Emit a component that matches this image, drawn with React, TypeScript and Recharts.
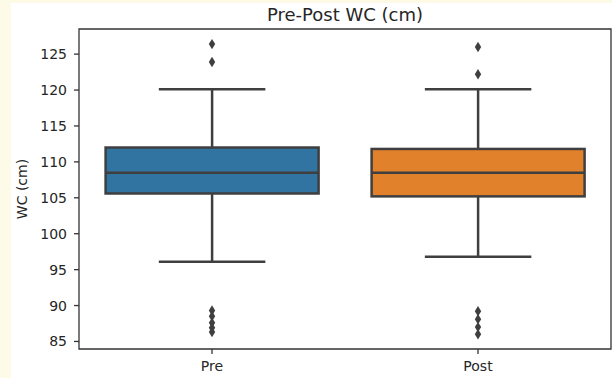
import React from 'react';
import { ComposedChart, Bar, Scatter, XAxis, YAxis, ReferenceArea } from 'recharts';

const categories = ['Pre', 'Post'];
const whiskerLow = [96.1, 96.8];
const q1 = [105.6, 105.2];
const median = [108.5, 108.5];
const q3 = [112.0, 111.8];
const whiskerHigh = [120.1, 120.1];
const preOutliers = [126.4, 123.9, 89.3, 88.5, 87.6, 86.9, 86.3];
const postOutliers = [126.0, 122.2, 89.2, 88.1, 87.0, 86.0];
const yTicks = [85, 90, 95, 100, 105, 110, 115, 120, 125];
const yDomain = [83.95, 128.5];
const boxColors = ['#3274a1', '#e1812c'];

const LINE = '#3f3f3f';
const TEXT = '#262626';
const FONT = '"DejaVu Sans", sans-serif';

const boxData = categories.map((name, i) => ({
  name,
  lo: whiskerLow[i],
  q1: q1[i],
  med: median[i],
  q3: q3[i],
  hi: whiskerHigh[i],
  color: boxColors[i],
}));

const outlierData = [
  ...preOutliers.map((v) => ({ name: 'Pre', v })),
  ...postOutliers.map((v) => ({ name: 'Post', v })),
];

const BoxShape = (props: any) => {
  const { x, y, width, height, payload } = props;
  const top = Math.min(y, y + height);
  const h = Math.abs(height);
  const { lo, hi } = payload;
  const py = (v: number) => top + ((hi - v) / (hi - lo)) * h;
  const cx = x + width / 2;
  const capHalf = width / 4;
  const sw = 2.5;
  return (
    <g>
      <line x1={cx} x2={cx} y1={py(hi)} y2={py(payload.q3)} stroke={LINE} strokeWidth={sw} />
      <line x1={cx} x2={cx} y1={py(payload.q1)} y2={py(lo)} stroke={LINE} strokeWidth={sw} />
      <line x1={cx - capHalf} x2={cx + capHalf} y1={py(hi)} y2={py(hi)} stroke={LINE} strokeWidth={sw} />
      <line x1={cx - capHalf} x2={cx + capHalf} y1={py(lo)} y2={py(lo)} stroke={LINE} strokeWidth={sw} />
      <rect
        x={x}
        y={py(payload.q3)}
        width={width}
        height={py(payload.q1) - py(payload.q3)}
        fill={payload.color}
        stroke={LINE}
        strokeWidth={sw}
      />
      <line x1={x} x2={x + width} y1={py(payload.med)} y2={py(payload.med)} stroke={LINE} strokeWidth={sw} />
    </g>
  );
};

const Diamond = (props: any) => {
  const { cx, cy } = props;
  if (cx == null || cy == null) return null;
  const w = 3.2;
  const hh = 5.2;
  return (
    <path
      d={`M${cx},${cy - hh} L${cx + w},${cy} L${cx},${cy + hh} L${cx - w},${cy} Z`}
      fill={LINE}
      stroke="none"
    />
  );
};

const YLabel = (props: any) => {
  const vb = props.viewBox || {};
  const cy = (vb.y || 0) + (vb.height || 0) / 2;
  const cx = 11;
  return (
    <text
      x={cx}
      y={cy}
      transform={`rotate(-90, ${cx}, ${cy})`}
      textAnchor="middle"
      dominantBaseline="central"
      fill={TEXT}
      fontSize={14}
      fontFamily={FONT}
    >
      WC (cm)
    </text>
  );
};

export default function App() {
  return (
    <div
      style={{
        position: 'fixed',
        left: 0,
        top: 0,
        width: 612,
        height: 378,
        background: '#fefae8',
        fontFamily: FONT,
      }}
    >
      <div style={{ position: 'absolute', left: 11, top: 3, width: 601, height: 375, background: '#ffffff' }}>
        <div
          style={{
            position: 'absolute',
            left: 68,
            width: 532,
            top: 1,
            textAlign: 'center',
            fontSize: 18,
            color: TEXT,
            lineHeight: '22px',
          }}
        >
          Pre-Post WC (cm)
        </div>
        <ComposedChart
          width={601}
          height={375}
          data={boxData}
          margin={{ top: 26, right: 1, bottom: 0, left: 0 }}
          barCategoryGap="10%"
        >
          <XAxis
            dataKey="name"
            type="category"
            allowDuplicatedCategory={false}
            height={29}
            axisLine={false}
            tickLine={{ stroke: '#333', strokeWidth: 1.3 }}
            tickSize={5}
            tickMargin={7}
            tick={{ fill: TEXT, fontSize: 14, fontFamily: FONT }}
          />
          <YAxis
            type="number"
            domain={yDomain}
            ticks={yTicks}
            interval={0}
            allowDataOverflow
            width={68}
            axisLine={false}
            tickLine={{ stroke: '#333', strokeWidth: 1.3 }}
            tickSize={5}
            tickMargin={7}
            tick={{ fill: TEXT, fontSize: 14, fontFamily: FONT }}
            label={<YLabel />}
          />
          <Bar
            dataKey={(d: any) => [d.lo, d.hi]}
            shape={<BoxShape />}
            isAnimationActive={false}
          />
          <Scatter
            data={outlierData}
            dataKey="v"
            shape={<Diamond />}
            isAnimationActive={false}
          />
          <ReferenceArea
            y1={yDomain[0]}
            y2={yDomain[1]}
            fill="none"
            fillOpacity={0}
            stroke="#333"
            strokeWidth={1.3}
            ifOverflow="visible"
          />
        </ComposedChart>
      </div>
    </div>
  );
}
